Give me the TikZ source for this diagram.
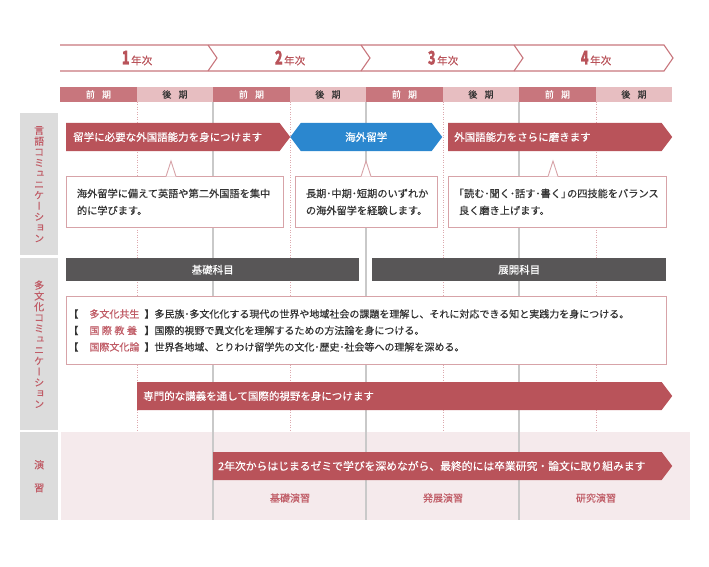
\documentclass[tikz,border=0pt]{standalone}
\usepackage{fontspec}
\usepackage{graphicx}
\setmainfont{Noto Sans CJK JP}[RawFeature={embolden=0.45}]
\newfontfamily\vjp[RawFeature={+vert;embolden=0.45}]{Noto Sans CJK JP}
\usetikzlibrary{positioning,shapes.symbols}
\definecolor{ink}{HTML}{333333}
\definecolor{brick}{HTML}{B9535A}
\definecolor{sea}{HTML}{2B87CF}
\definecolor{slate}{HTML}{585657}
\definecolor{rose}{HTML}{C8767D}
\definecolor{blush}{HTML}{E7BEC1}
\definecolor{rule}{HTML}{C9C9C9}
\definecolor{dotc}{HTML}{DDA9AE}
\definecolor{panel}{HTML}{DCDCDC}
\definecolor{wash}{HTML}{F5EAEC}
\definecolor{frame}{HTML}{D7A3A8}
\definecolor{labred}{HTML}{C05C66}
\newcommand\yr[1]{{\fontsize{19}{19}\selectfont\bfseries\scalebox{0.68}[1]{#1}}\hspace{1.5pt}{\fontsize{10.5}{10.5}\selectfont 年次}}
\newcommand\kw[1]{\makebox[5.5em][l]{\textcolor{labred}{#1}}}
\tikzset{
  yearline/.style={draw=rose, line width=1.1pt},
  yearlab/.style={text=brick, inner sep=0pt},
  zenki/.style={anchor=north west, minimum width=76.5pt, minimum height=15.5pt, inner sep=0pt, fill=rose, text=white, font=\fontsize{9}{9}\selectfont},
  kouki/.style={zenki, fill=blush, text=ink},
  grid/.style={draw=rule, line width=1.1pt},
  half/.style={draw=dotc, line width=0.8pt, dash pattern=on 1pt off 1.5pt},
  side/.style={anchor=north west, fill=panel, minimum width=38pt, inner sep=0pt, text=labred, align=center, font=\vjp\fontsize{10}{10.8}\selectfont},
  band/.style={signal, signal to=east, signal pointer angle=106, fill=#1, anchor=west, minimum height=28pt, inner sep=0pt},
  bandtxt/.style={text=white, inner sep=0pt, font=\fontsize{10.5}{12}\selectfont},
  callbox/.style={anchor=north west, draw=frame, fill=white, line width=0.9pt, minimum height=51pt, inner xsep=10.5pt, inner ysep=0pt, align=left, text=ink, font=\fontsize{10.2}{17}\selectfont},
  callpin/.style={draw=frame, fill=white, line width=0.9pt},
  bar/.style={anchor=north west, fill=slate, minimum height=23pt, inner sep=0pt, text=white, font=\fontsize{10.5}{12}\selectfont},
  textbox/.style={anchor=north west, draw=frame, fill=white, line width=0.9pt, minimum height=68pt, text width=596pt, inner xsep=2pt, inner ysep=0pt, align=left, text=ink, font=\fontsize{10}{16.5}\selectfont},
  lab/.style={text=labred, font=\fontsize{10}{12}\selectfont, inner sep=0pt},
}

\begin{document}
\begin{tikzpicture}[x=1pt, y=-1pt]
  \useasboundingbox (0,0) rectangle (709,567);
  % year band
  \draw[yearline] (60,45) -- (664,45) -- (673,58) -- (664,71) -- (60,71);
  \foreach \b in {213,366,519}
    \draw[yearline] (\b-5,45) -- (\b+4,58) -- (\b-5,71);
  \node[yearlab] (y1) at (137,58) {\yr{1}};
  \node[yearlab] (y2) at (290,58) {\yr{2}};
  \node[yearlab] (y3) at (443,58) {\yr{3}};
  \node[yearlab] (y4) at (596,58) {\yr{4}};
  % terms
  \node[zenki] (s1) at (60,86.5) {前\hspace{0.8em}期};
  \node[kouki] (s2) at (136.5,86.5) {後\hspace{0.8em}期};
  \node[zenki] (s3) at (213,86.5) {前\hspace{0.8em}期};
  \node[kouki] (s4) at (289.5,86.5) {後\hspace{0.8em}期};
  \node[zenki] (s5) at (366,86.5) {前\hspace{0.8em}期};
  \node[kouki] (s6) at (442.5,86.5) {後\hspace{0.8em}期};
  \node[zenki] (s7) at (519,86.5) {前\hspace{0.8em}期};
  \node[kouki] (s8) at (595.5,86.5) {後\hspace{0.8em}期};
  % left headings
  \node[side, minimum height=142pt] (lang) at (20,113) {言\\語\\コ\\ミ\\ュ\\ニ\\ケ\\ー\\シ\\ョ\\ン};
  \node[side, minimum height=172pt] (cult) at (20,258) {多\\文\\化\\コ\\ミ\\ュ\\ニ\\ケ\\ー\\シ\\ョ\\ン};
  \node[side, minimum height=88pt, font=\fontsize{10}{23}\selectfont] (semi) at (20,432) {演\\習};
  \fill[wash] (61,432) rectangle (690,520);
  % grid
  \foreach \x in {137,290,443,596}
    \draw[half] (\x,102) -- (\x,432);
  \foreach \x in {213,366,519}
    \draw[grid] (\x,102) -- (\x,520);
  % language
  \node[band=brick, minimum width=224pt] (lang1) at (66,137) {};
  \node[bandtxt, right=7pt of lang1.west] (lang1t) {留学に必要な外国語能力を身につけます};
  \node[band=sea, signal to=east and west, minimum width=152pt] (abroad) at (290,137) {};
  \node[bandtxt] (abroadt) at (abroad.center) {海外留学};
  \node[band=brick, minimum width=224pt] (lang2) at (448,137) {};
  \node[bandtxt, right=6pt of lang2.west] (lang2t) {外国語能力をさらに磨きます};
  \node[callbox, text width=196pt] (cb1) at (66,176) {海外留学に備えて英語や第二外国語を集中\\的に学びます。};
  \filldraw[callpin] (166,176.5) -- (171,161) -- (176,176.5);
  \node[callbox, text width=121pt] (cb2) at (295,176) {長期･中期･短期のいずれか\\の海外留学を経験します。};
  \filldraw[callpin] (361,176.5) -- (366,161) -- (371,176.5);
  \node[callbox, text width=197pt] (cb3) at (448,176) {\hspace*{-0.5em}「読む･聞く･話す･書く」\kern-0.4em の四技能をバランス\\良く磨き上げます。};
  \filldraw[callpin] (548,176.5) -- (553,161) -- (558,176.5);
  % culture
  \node[bar, minimum width=293pt] (basic) at (66,258) {基礎科目};
  \node[bar, minimum width=294pt] (adv) at (372,258) {展開科目};
  \node[textbox] (cultbox) at (66,296) {%
    【\hspace{1.1em}\kw{多文化共生}】多民族･多文化化する現代の世界や地域社会の課題を理解し、それに対応できる知と実践力を身につける。\\
    【\hspace{1.1em}\kw{国\hspace{0.25em}際\hspace{0.25em}教\hspace{0.25em}養}】国際的視野で異文化を理解するための方法論を身につける。\\
    【\hspace{1.1em}\kw{国際文化論}】世界各地域、とりわけ留学先の文化･歴史･社会等への理解を深める。};
  \node[band=brick, minimum width=535pt] (spec) at (137,396) {};
  \node[bandtxt, right=6pt of spec.west] (spect) {専門的な講義を通して国際的視野を身につけます};
  % seminar
  \node[band=brick, minimum width=459pt] (zemi) at (213,466) {};
  \node[bandtxt, font=\fontsize{10.8}{12}\selectfont, right=5pt of zemi.west] (zemit) {2年次からはじまるゼミで学びを深めながら、最終的には卒業研究・論文に取り組みます};
  \node[lab] (z1) at (290,498) {基礎演習};
  \node[lab] (z2) at (443,498) {発展演習};
  \node[lab] (z3) at (596,498) {研究演習};
\end{tikzpicture}
\end{document}
